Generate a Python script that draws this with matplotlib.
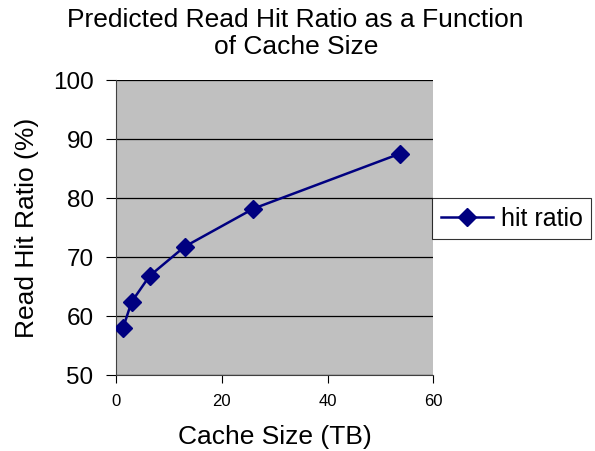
import matplotlib
matplotlib.use("Agg")
import matplotlib.pyplot as plt

plt.rcParams['font.family'] = ['Liberation Sans', 'DejaVu Sans']

# cache size (TB) vs predicted read hit ratio (%)
cache_tb = [1.35, 3.0, 6.4, 13.0, 26.0, 53.6]
hit_ratio = [57.9, 62.4, 66.8, 71.75, 78.2, 87.5]

fig = plt.figure(figsize=(5.95, 4.51), dpi=100)
ax = fig.add_axes([0.1945, 0.1685, 0.534, 0.654])
ax.set_facecolor('#C0C0C0')

ax.plot(cache_tb, hit_ratio, color='#000080', lw=1.8, marker='D', markersize=9,
        label='hit ratio', zorder=3)

ax.set_xlim(0, 60)
ax.set_ylim(50, 100)
ax.set_xticks([0, 20, 40, 60])
ax.set_yticks([50, 60, 70, 80, 90, 100])
ax.yaxis.grid(True, color='black', lw=0.9)
ax.set_axisbelow(True)
for side in ['top', 'right']:
    ax.spines[side].set_visible(False)
for side in ['left', 'bottom']:
    ax.spines[side].set_color('#404040')
ax.tick_params(axis='y', labelsize=17.5, length=7, pad=9, direction='out', color='black')
ax.tick_params(axis='x', labelsize=12, length=6, pad=8, direction='out', color='black')

ax.set_xlabel('Cache Size (TB)', fontsize=19, labelpad=11)
ax.set_ylabel('Read Hit Ratio (%)', fontsize=19, labelpad=10)
fig.text(0.497, 0.983, 'Predicted Read Hit Ratio as a Function\nof Cache Size',
         ha='center', va='top', fontsize=19, linespacing=1.2)

leg = fig.legend(loc='center left', bbox_to_anchor=(0.726, 0.5155), fontsize=18,
                 frameon=True, fancybox=False, edgecolor='black', handlelength=2.1,
                 borderpad=0.35, handletextpad=0.3, borderaxespad=0)
leg.get_frame().set_linewidth(0.8)

fig.savefig('out.png', dpi=100)
